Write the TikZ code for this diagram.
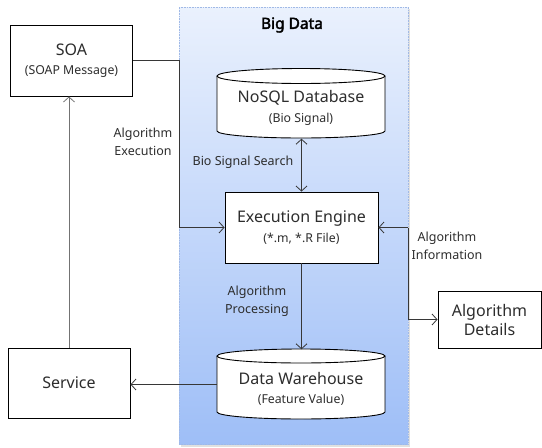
\documentclass[tikz,border=0pt]{standalone}
\usepackage{fontspec}
\setmainfont{Noto Sans}
\newfontfamily\titlefont{Noto Sans}[FakeBold=2.5]
\usetikzlibrary{arrows.meta}
\definecolor{panelTop}{RGB}{234,241,253}
\definecolor{panelBot}{RGB}{158,190,247}
\definecolor{panelEdge}{RGB}{160,185,230}
\definecolor{txt}{RGB}{45,45,45}
\definecolor{lineGray}{RGB}{115,115,115}
\definecolor{lineDark}{RGB}{55,55,55}
\begin{document}
\begin{tikzpicture}[x=1pt,y=-1pt,
  box/.style={draw=black, line width=0.9pt, fill=white, inner sep=0pt, align=center, text=txt},
  two/.style={font=\fontsize{12.3}{19.5}\selectfont},
  lbl/.style={align=center, text=txt, font=\fontsize{12.5}{18}\selectfont, inner sep=0pt},
  txtnode/.style={align=center, text=txt, inner sep=0pt},
  arr/.style={-{Straight Barb[length=5pt,width=11pt]}, line width=0.8pt, draw=lineDark},
  cyl/.style={draw=black, line width=0.9pt, fill=white},
]
\useasboundingbox (0,0) rectangle (542,448);

% Big Data panel
\fill[black!12] (181,9) rectangle (410,447);
\node[minimum width=229pt, minimum height=437pt, inner sep=0pt,
      top color=panelTop, bottom color=panelBot, draw=panelEdge, densely dotted, line width=0.6pt]
      (bigdata) at (293.5,225.5) {};
\node[inner sep=0pt, font=\titlefont\fontsize{15.5}{18}\selectfont] (bdtitle) at (292,25) {Big Data};

% NoSQL cylinder
\path[fill=white] (301,131) ellipse[x radius=84, y radius=7];
\path[fill=white] (217,76) rectangle (385,131);
\draw[line width=0.9pt] (217,76) -- (217,131) arc[start angle=180, end angle=0, x radius=84, y radius=7] -- (385,76);
\draw[cyl] (301,76) ellipse[x radius=84, y radius=7.5];
\node[minimum width=168pt, minimum height=70pt, inner sep=0pt] (nosql) at (301,103.5) {};
\node[txtnode, two] (nosqlT) at (301,108) {{\fontsize{16}{19.5}\selectfont NoSQL Database}\\(Bio Signal)};

% Data Warehouse cylinder
\path[fill=white] (301,412) ellipse[x radius=84, y radius=7];
\path[fill=white] (217,356) rectangle (385,412);
\draw[line width=0.9pt] (217,356) -- (217,412) arc[start angle=180, end angle=0, x radius=84, y radius=7] -- (385,356);
\draw[cyl] (301,356) ellipse[x radius=84, y radius=7];
\node[minimum width=168pt, minimum height=70pt, inner sep=0pt] (dw) at (301,384.5) {};
\node[txtnode, two] (dwT) at (301,389) {{\fontsize{16}{19.5}\selectfont Data Warehouse}\\(Feature Value)};

% Execution Engine
\node[box, two, minimum width=153pt, minimum height=71pt] (ee) at (301.5,227.5)
  {{\fontsize{16}{19.5}\selectfont Execution Engine}\\(*.m, *.R File)};

% SOA
\node[box, two, minimum width=122pt, minimum height=71pt] (soa) at (71.5,60.5)
  {{\fontsize{16}{19.5}\selectfont SOA}\\(SOAP Message)};

% Service
\node[box, minimum width=122pt, minimum height=70pt, font=\fontsize{16}{19}\selectfont] (service) at (69,383)
  {Service};

% Algorithm Details
\node[box, minimum width=103pt, minimum height=57pt, font=\fontsize{16}{19}\selectfont] (ad) at (489.5,319.5)
  {Algorithm\\Details};

% connectors
\coordinate (j1) at (179,0);
\coordinate (j2) at (408,227.5);
\draw[arr, draw=lineGray] (service.north) -- (service.north |- soa.south);
\draw[arr, draw=lineDark] (soa.east) -| (j1 |- ee.west) -- (ee.west);
\draw[{Straight Barb[length=5pt,width=11pt]}-{Straight Barb[length=5pt,width=11pt]}, line width=0.8pt, draw=lineDark]
  (nosql.south -| ee.north) -- (ee.north);
\draw[arr] (ee.south) -- (ee.south |- dw.north);
\draw[arr] (dw.west) -- (service.east |- dw.west);
\draw[arr] (j2) -- (ee.east);
\draw[arr] (j2) |- (ad.west);

% labels
\node[lbl] (lAE) at (143,142) {Algorithm\\Execution};
\node[lbl] (lBS) at (243,162) {Bio Signal Search};
\node[lbl] (lAP) at (257,301) {Algorithm\\Processing};
\node[lbl] (lAI) at (447,246) {Algorithm\\Information};
\end{tikzpicture}
\end{document}
